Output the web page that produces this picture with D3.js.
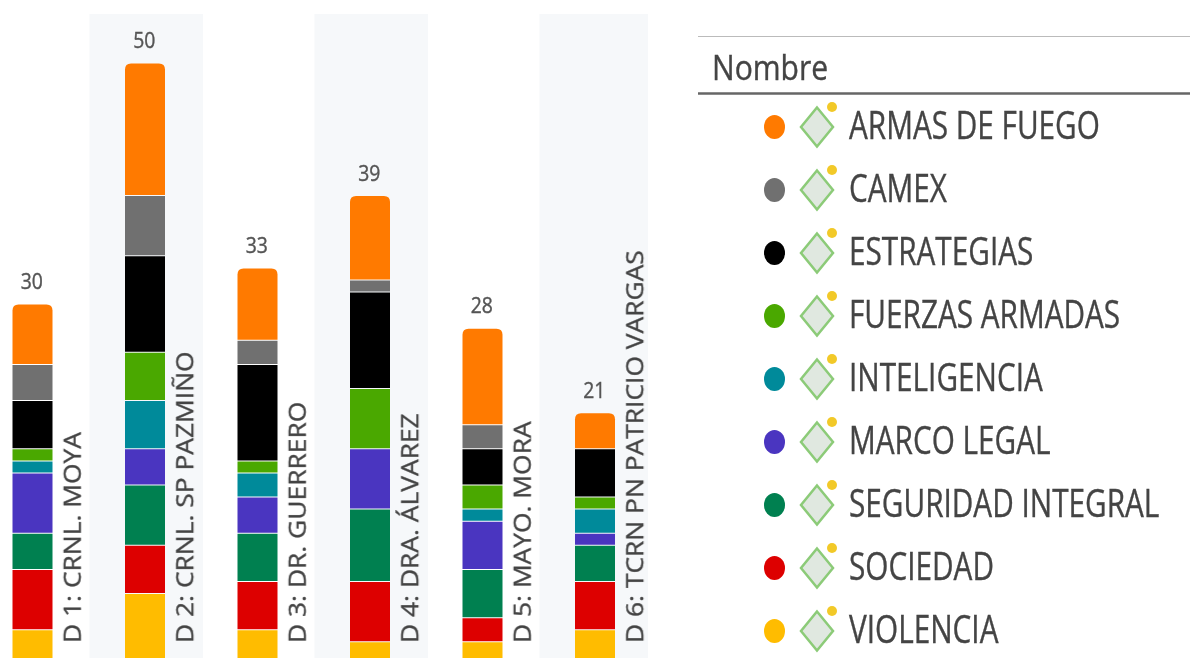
<!DOCTYPE html>
<html><head><meta charset="utf-8">
<script src="https://cdn.jsdelivr.net/npm/d3@7"></script>
<style>html,body{margin:0;padding:0;background:#fff;overflow:hidden}svg{display:block}text{font-family:"Open Sans",sans-serif;filter:blur(0.45px);stroke:currentColor;stroke-width:0.35px}</style>
</head><body><svg id="c" width="1190" height="658"></svg>
<script>
const categories=["D 1: CRNL. MOYA","D 2: CRNL. SP PAZMIÑO","D 3: DR.  GUERRERO","D 4: DRA. ÁLVAREZ","D 5: MAYO. MORA","D 6: TCRN PN PATRICIO VARGAS"];
const seriesNames=["VIOLENCIA","SOCIEDAD","SEGURIDAD INTEGRAL","MARCO LEGAL","INTELIGENCIA","FUERZAS ARMADAS","ESTRATEGIAS","CAMEX","ARMAS DE FUEGO"];
const seriesColors=["#FFBC00","#DD0000","#008050","#4A35C0","#008A9A","#4AA800","#000000","#707070","#FF7A00"];
const violencia=[3,6,3,2,2,3];
const sociedad=[5,4,4,5,2,4];
const seguridad=[3,5,4,6,4,3];
const marco=[5,3,3,5,4,1];
const inteligencia=[1,4,2,0,1,2];
const fuerzas=[1,4,1,5,2,1];
const estrategias=[4,8,8,8,3,4];
const camex=[3,5,2,1,2,0];
const armas=[5,11,6,7,8,3];
const allSeries=[violencia,sociedad,seguridad,marco,inteligencia,fuerzas,estrategias,camex,armas];
const legendOrder=["ARMAS DE FUEGO","CAMEX","ESTRATEGIAS","FUERZAS ARMADAS","INTELIGENCIA","MARCO LEGAL","SEGURIDAD INTEGRAL","SOCIEDAD","VIOLENCIA"];

const svg=d3.select("#c");
const x=d3.scaleBand().domain(categories).range([-24,651]);
const y=d3.scaleLinear().domain([0,50]).range([666.4,63.4]);
const color=d3.scaleOrdinal(seriesNames,seriesColors);
const rows=categories.map((c,i)=>{const r={cat:c};seriesNames.forEach((s,j)=>r[s]=allSeries[j][i]);return r;});
const stacked=d3.stack().keys(seriesNames)(rows);
const totals=rows.map(r=>d3.sum(seriesNames,s=>r[s]));
const barW=40, rad=6;

svg.append("g").selectAll("rect").data(categories.filter((c,i)=>i%2==1)).join("rect")
 .attr("x",d=>x(d)+1).attr("width",d=>d===categories[5]?x.bandwidth()-4:x.bandwidth()+1)
 .attr("y",14).attr("height",644).attr("fill","#F6F8FA");

const cx=d=>x(d)+x.bandwidth()/2;
const barG=svg.append("g");
stacked.forEach(layer=>{
  barG.append("g").attr("fill",color(layer.key)).selectAll("path")
   .data(layer.filter(d=>d[1]>d[0])).join("path")
   .attr("d",d=>{
     const l=cx(d.data.cat)-barW/2+0.25,r=l+barW,t=y(d[1]),b=y(d[0])-1;
     if(layer.key==="ARMAS DE FUEGO")
       return `M${l},${b}V${t+rad}Q${l},${t} ${l+rad},${t}H${r-rad}Q${r},${t} ${r},${t+rad}V${b}Z`;
     return `M${l},${t}H${r}V${b}H${l}Z`;
   });
});

svg.append("g").selectAll("text").data(categories).join("text")
 .attr("transform",(d,i)=>`translate(${cx(d)-0.5},${y(totals[i])-15.5}) scale(1.02,1.14)`)
 .attr("text-anchor","middle").attr("font-size",19).attr("fill","#555").style("color","#555").text((d,i)=>totals[i]);

svg.append("g").selectAll("text").data(categories).join("text")
 .attr("transform",d=>`translate(${cx(d)+48.5},643) rotate(-90) scale(1.1,1)`)
 .attr("font-size",24).attr("fill","#444").style("color","#444").text(d=>d);

// legend
const ly=d3.scalePoint().domain(legendOrder).range([126,630]);
const lg=svg.append("g");
lg.append("line").attr("x1",698).attr("x2",1190).attr("y1",36.5).attr("y2",36.5).attr("stroke","#bbb").attr("stroke-width",1);
lg.append("line").attr("x1",698).attr("x2",1190).attr("y1",93.5).attr("y2",93.5).attr("stroke","#666").attr("stroke-width",2.5);
lg.append("text").attr("transform","translate(712,80) scale(0.94,1.1)").attr("font-size",32).attr("fill","#444").style("color","#444").text("Nombre");
const item=lg.selectAll("g.it").data(legendOrder).join("g").attr("class","it").attr("transform",d=>`translate(0,${ly(d)})`);
item.append("ellipse").attr("cx",774.5).attr("cy",1).attr("rx",10.5).attr("ry",12).attr("fill",d=>color(d));
item.append("path").attr("d","M817,-18.5L833,1L817,20.5L801,1Z").attr("fill","#E0E8E0").attr("stroke","#8CCB78").attr("stroke-width",2.5);
item.append("circle").attr("cx",832).attr("cy",-19).attr("r",5).attr("fill","#F2C928");
item.append("text").attr("transform","translate(849,13) scale(0.85,1.08)").attr("font-size",35).attr("fill","#444").style("color","#444").text(d=>d);
</script></body></html>
